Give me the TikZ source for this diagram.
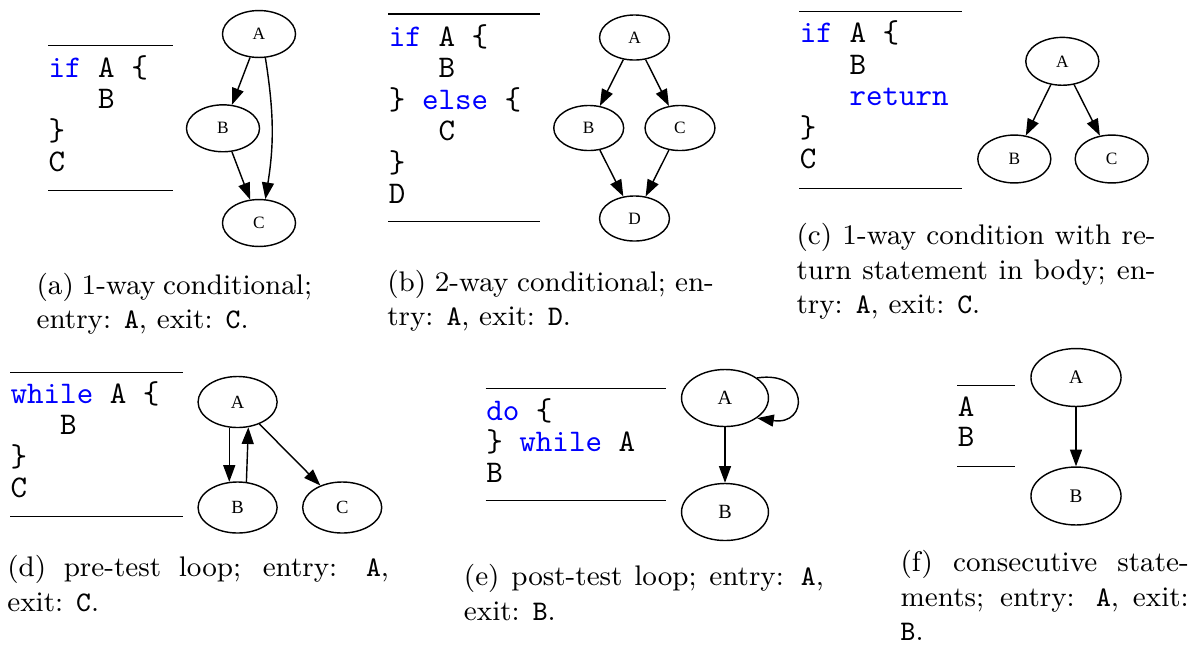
\documentclass[tikz,border=0pt]{standalone}
\usepackage{fontspec}
\usepackage{xcolor}
\usetikzlibrary{shapes.geometric,arrows.meta,calc}

\newfontfamily\gvfont{Liberation Serif}
\newcommand{\kw}[1]{\textcolor{blue}{#1}}
\newcommand{\cind}{\hphantom{xxx}}

\begin{document}
\begin{tikzpicture}[
    x=0.3175pt, y=-0.3175pt,
    gnode/.style 2 args={ellipse, draw, line width=0.45pt, inner sep=0pt,
      minimum width=#1, minimum height=#2, font=\gvfont\fontsize{5.5}{6}\selectfont},
    arc/.style={-{Triangle[length=5.3pt,width=3.8pt]}, line width=0.45pt},
    code/.style={anchor=base west, inner sep=0pt, font=\ttfamily\fontsize{10}{10}\selectfont},
    rule/.style={line width=0.35pt},
    capt/.style={anchor=base west, inner sep=0pt, font=\fontsize{9}{11}\selectfont}
  ]
  \useasboundingbox (0,0) rectangle (1192,647);

  % (a) 1-way conditional
  \draw[rule] (48,45.7) -- (173,45.7);
  \node[code] (a1) at (48,77.3) {\kw{if} A \{};
  \node[code] (a2) at (48,108.8) {\cind B};
  \node[code] (a3) at (48,140.3) {\}};
  \node[code] (a4) at (48,171.8) {C};
  \draw[rule] (48,190.7) -- (173,190.7);

  \node[gnode={23.2pt}{14.9pt}] (aA) at (259,34) {A};
  \node[gnode={23.2pt}{14.9pt}] (aB) at (223,128.3) {B};
  \node[gnode={23.2pt}{14.9pt}] (aC) at (259,223) {C};
  \draw[arc] (aA) -- (aB);
  \draw[arc] (aA.-75) .. controls +(8.7,55) and +(8.7,-55) .. (aC.75);
  \draw[arc] (aB) -- (aC);

  \node[capt] (acap1) at (36,294) {\makebox[87.5pt][s]{(a) 1-way conditional;}};
  \node[capt] (acap2) at (36,328.6) {entry: \texttt{A}, exit: \texttt{C}.};

  % (b) 2-way conditional
  \draw[rule] (388.3,14) -- (540,14);
  \node[code] (b1) at (388.3,46) {\kw{if} A \{};
  \node[code] (b2) at (388.3,77.5) {\cind B};
  \node[code] (b3) at (388.3,109) {\} \kw{else} \{};
  \node[code] (b4) at (388.3,140.5) {\cind C};
  \node[code] (b5) at (388.3,172) {\}};
  \node[code] (b6) at (388.3,203.5) {D};
  \draw[rule] (388.3,221.7) -- (540,221.7);

  \node[gnode={22.2pt}{14.3pt}] (bA) at (634.5,37.5) {A};
  \node[gnode={22.2pt}{14.3pt}] (bB) at (588.7,128) {B};
  \node[gnode={22.2pt}{14.3pt}] (bC) at (680,128) {C};
  \node[gnode={22.2pt}{14.3pt}] (bD) at (634.5,218.5) {D};
  \draw[arc] (bA) -- (bB);
  \draw[arc] (bA) -- (bC);
  \draw[arc] (bB) -- (bD);
  \draw[arc] (bC) -- (bD);

  \node[capt] (bcap1) at (386.7,291) {\makebox[103.7pt][s]{(b) 2-way conditional; en-}};
  \node[capt] (bcap2) at (386.7,325.6) {try: \texttt{A}, exit: \texttt{D}.};

  % (c) condition with return
  \draw[rule] (799.3,11.7) -- (961.7,11.7);
  \node[code] (c1) at (799.3,42.7) {\kw{if} A \{};
  \node[code] (c2) at (799.3,74.2) {\cind B};
  \node[code] (c3) at (799.3,105.7) {\cind\kw{return}};
  \node[code] (c4) at (799.3,137.2) {\}};
  \node[code] (c5) at (799.3,168.7) {C};
  \draw[rule] (799.3,188.3) -- (961.7,188.3);

  \node[gnode={23.2pt}{15.2pt}] (cA) at (1062.3,61.3) {A};
  \node[gnode={23.2pt}{15.2pt}] (cB) at (1014.3,159) {B};
  \node[gnode={23.2pt}{15.2pt}] (cC) at (1111.7,159) {C};
  \draw[arc] (cA) -- (cB);
  \draw[arc] (cA) -- (cC);

  \node[capt] (ccap1) at (796,244.5) {\makebox[114pt][s]{(c) 1-way condition with re-}};
  \node[capt] (ccap2) at (796,279.1) {\makebox[114pt][s]{turn statement in body; en-}};
  \node[capt] (ccap3) at (796,313.7) {try: \texttt{A}, exit: \texttt{C}.};

  % (d) pre-test loop
  \draw[rule] (10,372.3) -- (182.7,372.3);
  \node[code] (d1) at (10,403.3) {\kw{while} A \{};
  \node[code] (d2) at (10,434.6) {\cind B};
  \node[code] (d3) at (10,466) {\}};
  \node[code] (d4) at (10,497.3) {C};
  \draw[rule] (10,516.7) -- (182.7,516.7);

  \node[gnode={25.1pt}{16.2pt}, font=\gvfont\fontsize{5.9}{6}\selectfont] (dA) at (237.6,402) {A};
  \node[gnode={25.1pt}{16.2pt}, font=\gvfont\fontsize{5.9}{6}\selectfont] (dB) at (237.6,507.5) {B};
  \node[gnode={25.1pt}{16.2pt}, font=\gvfont\fontsize{5.9}{6}\selectfont] (dC) at (342.2,507.5) {C};
  \draw[arc] (dA.-108) -- (dB.108);
  \draw[arc] (dB.71) -- (dA.-67);
  \draw[arc] (dA) -- (dC);

  \node[capt] (dcap1) at (6.7,576) {\makebox[121.2pt][s]{(d) pre-test loop; entry: \texttt{A},}};
  \node[capt] (dcap2) at (6.7,611) {exit: \texttt{C}.};

  % (e) post-test loop
  \draw[rule] (485.7,388.3) -- (665.7,388.3);
  \node[code] (e1) at (485.7,420) {\kw{do} \{};
  \node[code] (e2) at (485.7,451.2) {\} \kw{while} A};
  \node[code] (e3) at (485.7,482.3) {B};
  \draw[rule] (485.7,500.7) -- (665.7,500.7);

  \node[gnode={27.6pt}{18.1pt}, font=\gvfont\fontsize{6.4}{7}\selectfont] (eA) at (725,398) {A};
  \node[gnode={27.6pt}{18.1pt}, font=\gvfont\fontsize{6.4}{7}\selectfont] (eB) at (725,512) {B};
  \draw[arc] (eA) -- (eB);
  \draw[arc] (eA.32) .. controls +(52,-8) and +(52,8) .. (eA.-32);

  \node[capt] (ecap1) at (463.3,585.5) {\makebox[114.3pt][s]{(e) post-test loop; entry: \texttt{A},}};
  \node[capt] (ecap2) at (463.3,620.5) {exit: \texttt{B}.};

  % (f) consecutive statements
  \draw[rule] (957.3,385.7) -- (1015,385.7);
  \node[code] (f1) at (957.3,416) {A};
  \node[code] (f2) at (957.3,446.7) {B};
  \draw[rule] (957.3,466.7) -- (1015,466.7);

  \node[gnode={28.6pt}{18.4pt}, font=\gvfont\fontsize{6.1}{7}\selectfont] (fA) at (1076,377.5) {A};
  \node[gnode={28.6pt}{18.4pt}, font=\gvfont\fontsize{6.1}{7}\selectfont] (fB) at (1076,496) {B};
  \draw[arc] (fA) -- (fB);

  \node[capt] (fcap1) at (900,571.5) {\makebox[91.5pt][s]{(f) consecutive state-}};
  \node[capt] (fcap2) at (900,606) {\makebox[91.5pt][s]{ments; entry: \texttt{A}, exit:}};
  \node[capt] (fcap3) at (900,640.5) {\texttt{B}.};

\end{tikzpicture}
\end{document}
